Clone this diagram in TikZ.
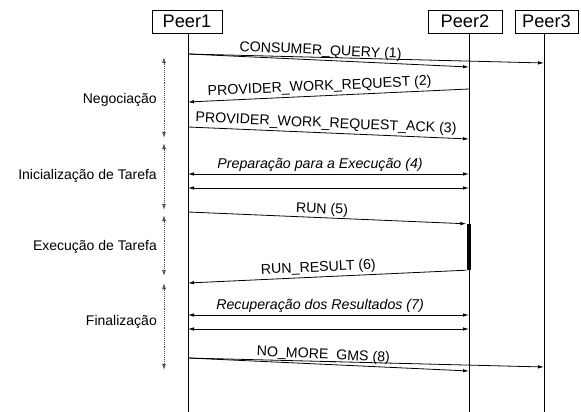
\documentclass[tikz,border=0pt]{standalone}
\usepackage{fontspec}
\setmainfont{Liberation Sans}
\usetikzlibrary{arrows.meta}
\begin{document}
\begin{tikzpicture}[x=1pt,y=-1pt,
  peer/.style={draw, line width=0.7pt, minimum height=23pt, inner sep=0pt, font=\fontsize{18.2}{20}\selectfont},
  life/.style={line width=0.8pt},
  msg/.style={line width=0.8pt, -{Latex[length=6pt,width=3.5pt]}},
  dmsg/.style={line width=0.8pt, {Latex[length=6pt,width=3.5pt]}-{Latex[length=6pt,width=3.5pt]}},
  lbl/.style={font=\fontsize{14.2}{16}\selectfont, inner sep=2pt},
  phase/.style={densely dotted, gray!60!black, line width=0.9pt, {Latex[open,length=6pt,width=4pt]}-{Latex[open,length=6pt,width=4pt]}},
  phlbl/.style={font=\fontsize{14}{16}\selectfont, anchor=east, inner sep=0pt}]
\useasboundingbox (0,0) rectangle (581,412);
% peers
\node[peer, minimum width=70pt] (p1) at (187,21.5) {Peer1};
\node[peer, minimum width=74pt] (p2) at (465,21.5) {Peer2};
\node[peer, minimum width=63pt] (p3) at (546.5,21.5) {Peer3};
\coordinate (l1) at (188,412);
\coordinate (l2) at (469,412);
\coordinate (l3) at (544,412);
\draw[life] (l1 |- p1.south) -- (l1);
\draw[life] (l2 |- p2.south) -- (l2);
\draw[life] (l3 |- p3.south) -- (l3);
% activation bar
\node[fill=black, minimum width=4.5pt, minimum height=46pt, inner sep=0pt] (bar) at (468.75,247) {};
% message end points
\coordinate (m1a) at (188,54);
\coordinate (m1b) at (469,67);
\coordinate (m1c) at (544,63);
\coordinate (m2a) at (469,89);
\coordinate (m2b) at (188,102);
\coordinate (m3a) at (188,127);
\coordinate (m3b) at (469,139);
\coordinate (m4a) at (188,174);
\coordinate (m4b) at (469,174);
\coordinate (m4c) at (188,188);
\coordinate (m4d) at (469,188);
\coordinate (m5a) at (188,212);
\coordinate (m6b) at (188,283);
\coordinate (m7a) at (188,315);
\coordinate (m7b) at (469,315);
\coordinate (m7c) at (188,329);
\coordinate (m7d) at (469,329);
\coordinate (m8a) at (188,358);
\coordinate (m8b) at (469,371);
\coordinate (m8c) at (544,367);
% messages
\draw[msg] (m1a) -- (m1c);
\draw[msg] (m1a) -- node[lbl, pos=0.47, sloped, above] {CONSUMER\_QUERY (1)} (m1b);
\draw[msg] (m2a) -- node[lbl, pos=0.53, sloped, above] {PROVIDER\_WORK\_REQUEST (2)} (m2b);
\draw[msg] (m3a) -- node[lbl, pos=0.49, sloped, above] {PROVIDER\_WORK\_REQUEST\_ACK (3)} (m3b);
\draw[dmsg] (m4a) -- node[lbl, pos=0.47, above] {\itshape Preparação para a Execução (4)} (m4b);
\draw[dmsg] (m4c) -- (m4d);
\draw[msg] (m5a) -- node[lbl, pos=0.48, sloped, above, inner sep=1pt] {RUN (5)} (bar.north west);
\draw[msg] (bar.south west) -- node[lbl, pos=0.53, sloped, above] {RUN\_RESULT (6)} (m6b);
\draw[dmsg] (m7a) -- node[lbl, pos=0.47, above] {\itshape Recuperação dos Resultados (7)} (m7b);
\draw[dmsg] (m7c) -- (m7d);
\draw[msg] (m8a) -- (m8c);
\draw[msg] (m8a) -- node[lbl, pos=0.48, sloped, above] {NO\_MORE\_GMS (8)} (m8b);
% phases
\coordinate (f1a) at (164,57);
\coordinate (f1b) at (164,138);
\coordinate (f2a) at (164,143);
\coordinate (f2b) at (164,210);
\coordinate (f3a) at (164,215);
\coordinate (f3b) at (164,276);
\coordinate (f4a) at (164,283);
\coordinate (f4b) at (164,370);
\draw[phase] (f1a) -- (f1b);
\draw[phase] (f2a) -- (f2b);
\draw[phase] (f3a) -- (f3b);
\draw[phase] (f4a) -- (f4b);
\node[phlbl] (n1) at (157,100) {Negociação};
\node[phlbl] (n2) at (157,176) {Inicialização de Tarefa};
\node[phlbl] (n3) at (157,247) {Execução de Tarefa};
\node[phlbl] (n4) at (157,322) {Finalização};
\end{tikzpicture}
\end{document}
